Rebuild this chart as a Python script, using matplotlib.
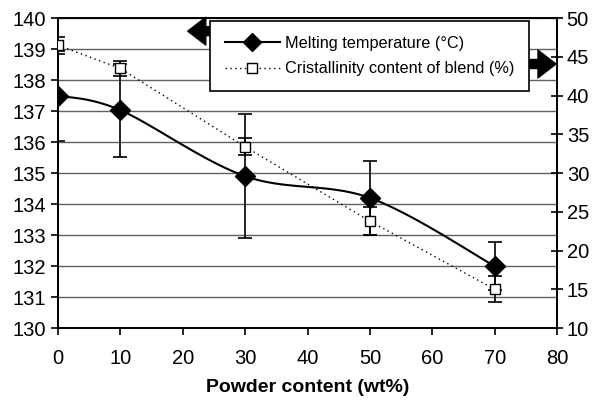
import matplotlib
matplotlib.use("Agg")
import matplotlib.pyplot as plt
from matplotlib.lines import Line2D
import numpy as np

plt.rcParams['font.family'] = ['Liberation Sans', 'DejaVu Sans']

powder = [0, 10, 30, 50, 70]
melt_temp = [137.5, 137.03, 134.9, 134.2, 132.0]
melt_err = [1.45, 1.5, 2.0, 1.2, 0.78]
cryst = [46.5, 43.5, 33.4, 23.8, 15.0]
cryst_err = [1.1, 1.0, 1.1, 1.8, 1.7]

melt_label = 'Melting temperature (°C)'
cryst_label = 'Cristallinity content of blend (%)'


def smooth(x, y, n=30):
    # excel-like smoothed line (catmull-rom as bezier)
    p = np.column_stack([x, y]).astype(float)
    pts = []
    for i in range(len(p) - 1):
        p0 = p[i - 1] if i > 0 else p[i]
        p3 = p[i + 2] if i + 2 < len(p) else p[i + 1]
        c1 = p[i] + (p[i + 1] - p0) / 6
        c2 = p[i + 1] - (p3 - p[i]) / 6
        t = np.linspace(0, 1, n)[:, None]
        seg = ((1 - t) ** 3 * p[i] + 3 * (1 - t) ** 2 * t * c1
               + 3 * (1 - t) * t ** 2 * c2 + t ** 3 * p[i + 1])
        pts.append(seg if i == 0 else seg[1:])
    pts = np.vstack(pts)
    return pts[:, 0], pts[:, 1]


fig = plt.figure(figsize=(5.96, 4.03), dpi=100)
ax = fig.add_axes([0.0973, 0.186, 0.8373, 0.769])
ax2 = ax.twinx()

ax.set_xlim(0, 80)
ax.set_ylim(130, 140)
ax2.set_ylim(10, 50)
ax.set_xticks(range(0, 81, 10))
ax.set_yticks(range(130, 141))
ax2.set_yticks(range(10, 51, 5))

for v in range(131, 141):
    ax.axhline(v, color='#606060', lw=1.0, zorder=0)

# crystallinity on right axis
ax2.errorbar(powder, cryst, yerr=cryst_err, fmt='none', ecolor='black',
             elinewidth=1.2, capsize=5, capthick=1.2, zorder=3)
ax2.plot(powder, cryst, linestyle=(0, (1, 2.5)), color='black', lw=1.0,
         marker='s', markersize=6.5, markerfacecolor='white',
         markeredgecolor='black', markeredgewidth=1.0, zorder=4)

# melting temperature on left axis
ax2.set_zorder(ax.get_zorder() + 1)
ax2.patch.set_visible(False)
ax.errorbar(powder, melt_temp, yerr=melt_err, fmt='none', ecolor='black',
            elinewidth=1.2, capsize=5, capthick=1.2, zorder=3)
sx, sy = smooth(powder, melt_temp)
ax.plot(sx, sy, color='black', lw=1.5, zorder=4)
ax.plot(powder, melt_temp, linestyle='none', marker='D', markersize=10,
        color='black', zorder=5)

for a in (ax, ax2):
    for s in a.spines.values():
        s.set_linewidth(1.3)
        s.set_color('black')
ax.tick_params(axis='both', labelsize=14.5, length=5, width=1.2, direction='out')
ax.tick_params(axis='x', pad=10)
ax2.tick_params(axis='y', labelsize=14.5, length=8, width=1.2, direction='inout', pad=3)
ax.set_xlabel('Powder content (wt%)', fontsize=14, fontweight='bold', labelpad=8)

handles = [
    Line2D([], [], color='black', lw=1.5, marker='D', markersize=9),
    Line2D([], [], color='black', lw=1.0, linestyle=(0, (1, 2.5)), marker='s',
           markersize=6.5, markerfacecolor='white', markeredgewidth=1.0),
]
leg = ax2.legend(handles, [melt_label, cryst_label], loc='upper left',
                 bbox_to_anchor=(0.305, 0.99), fontsize=11.7, frameon=True,
                 fancybox=False, edgecolor='black', framealpha=1,
                 handlelength=3.4, borderpad=0.9, labelspacing=0.65,
                 handletextpad=0.3, borderaxespad=0)
leg.get_frame().set_linewidth(1.2)

# axis pointer arrows
arrow = 'simple,head_length=1.3,head_width=2.0,tail_width=0.65'
ax2.annotate('', xy=(0.26, 0.958), xycoords='axes fraction',
             xytext=(0.318, 0.958), textcoords='axes fraction',
             arrowprops=dict(arrowstyle=arrow, color='black', shrinkA=0, shrinkB=0))
ax2.annotate('', xy=(0.998, 0.852), xycoords='axes fraction',
             xytext=(0.938, 0.852), textcoords='axes fraction',
             arrowprops=dict(arrowstyle=arrow, color='black', shrinkA=0, shrinkB=0))

fig.savefig('out.png', dpi=100)
